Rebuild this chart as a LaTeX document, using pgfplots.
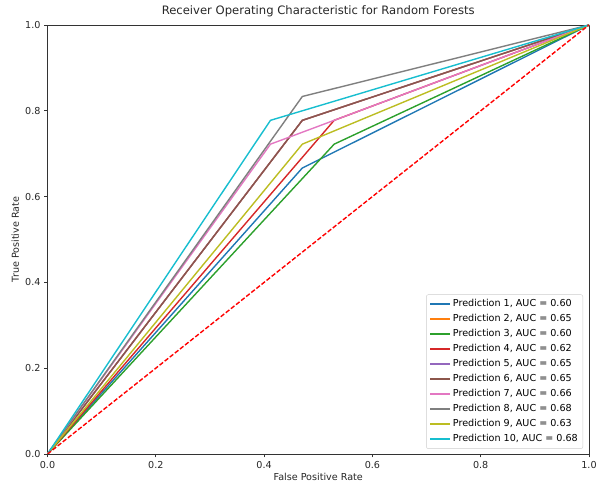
\documentclass[border=0pt]{standalone}
\usepackage{pgfplots}
\pgfplotsset{compat=1.18}
\usepackage{fontspec}
\setmainfont{DejaVu Sans}
\definecolor{c0}{HTML}{1F77B4}
\definecolor{c1}{HTML}{FF7F0E}
\definecolor{c2}{HTML}{2CA02C}
\definecolor{c3}{HTML}{D62728}
\definecolor{c4}{HTML}{9467BD}
\definecolor{c5}{HTML}{8C564B}
\definecolor{c6}{HTML}{E377C2}
\definecolor{c7}{HTML}{7F7F7F}
\definecolor{c8}{HTML}{BCBD22}
\definecolor{c9}{HTML}{17BECF}
\definecolor{txt}{HTML}{262626}
\begin{document}
\begin{tikzpicture}[x=1pt,y=1pt]
\path[use as bounding box] (-47.5,-33) rectangle (560.5,454);
\begin{axis}[
  at={(0,0)}, anchor=south west,
  scale only axis, width=541.5pt, height=429pt,
  xmin=0, xmax=1, ymin=0, ymax=1,
  xtick={0,0.2,0.4,0.6,0.8,1}, ytick={0,0.2,0.4,0.6,0.8,1},
  tick align=outside, major tick length=3.5pt,
  tick style={black!80, line width=0.8pt},
  axis line style={black!80, line width=0.8pt},
  xtick pos=bottom, ytick pos=left,
  /pgf/number format/assume math mode=true,
  xticklabel style={/pgf/number format/.cd, fixed, fixed zerofill, precision=1},
  yticklabel style={/pgf/number format/.cd, fixed, fixed zerofill, precision=1},
  ticklabel style={font=\fontsize{9.6}{11}\selectfont, text=txt},
  title={Receiver Operating Characteristic for Random Forests},
  title style={font=\fontsize{11.6}{13}\selectfont, at={(0.5,1)}, anchor=base, yshift=4.5pt, text=txt},
  xlabel={False Positive Rate},
  ylabel={True Positive Rate},
  xlabel style={font=\fontsize{9.6}{11}\selectfont, at={(axis description cs:0.5,0)}, anchor=center, yshift=-23pt, text=txt},
  ylabel style={font=\fontsize{9.6}{11}\selectfont, at={(axis description cs:-0.0595,0.5)}, anchor=center, text=txt},
  legend style={at={(0.989,0.012)}, anchor=south east, font=\fontsize{9.6}{11}\selectfont,
    draw=black!20, rounded corners=2pt, row sep=0pt, inner xsep=3pt, inner ysep=2pt,
    nodes={text height=7.5pt, text depth=2.5pt, inner ysep=2.5pt}},
  legend cell align=left,
  legend image code/.code={\draw[#1, line width=1.6pt] (0pt,0pt) -- (20pt,0pt);},
]
\addplot[c0, line width=1.4pt] coordinates {(0,0) (0.470588,0.666667) (1,1)};
\addlegendentry{Prediction 1, AUC = 0.60}
\addplot[c1, line width=1.4pt] coordinates {(0,0) (0.470588,0.777778) (1,1)};
\addlegendentry{Prediction 2, AUC = 0.65}
\addplot[c2, line width=1.4pt] coordinates {(0,0) (0.529412,0.722222) (1,1)};
\addlegendentry{Prediction 3, AUC = 0.60}
\addplot[c3, line width=1.4pt] coordinates {(0,0) (0.529412,0.777778) (1,1)};
\addlegendentry{Prediction 4, AUC = 0.62}
\addplot[c4, line width=1.4pt] coordinates {(0,0) (0.470588,0.777778) (1,1)};
\addlegendentry{Prediction 5, AUC = 0.65}
\addplot[c5, line width=1.4pt] coordinates {(0,0) (0.470588,0.777778) (1,1)};
\addlegendentry{Prediction 6, AUC = 0.65}
\addplot[c6, line width=1.4pt] coordinates {(0,0) (0.411765,0.722222) (1,1)};
\addlegendentry{Prediction 7, AUC = 0.66}
\addplot[c7, line width=1.4pt] coordinates {(0,0) (0.470588,0.833333) (1,1)};
\addlegendentry{Prediction 8, AUC = 0.68}
\addplot[c8, line width=1.4pt] coordinates {(0,0) (0.470588,0.722222) (1,1)};
\addlegendentry{Prediction 9, AUC = 0.63}
\addplot[c9, line width=1.4pt] coordinates {(0,0) (0.411765,0.777778) (1,1)};
\addlegendentry{Prediction 10, AUC = 0.68}
\addplot[red, line width=1.4pt, dash pattern=on 4.5pt off 2pt, forget plot] coordinates {(0,0) (1,1)};
\end{axis}
\end{tikzpicture}
\end{document}
